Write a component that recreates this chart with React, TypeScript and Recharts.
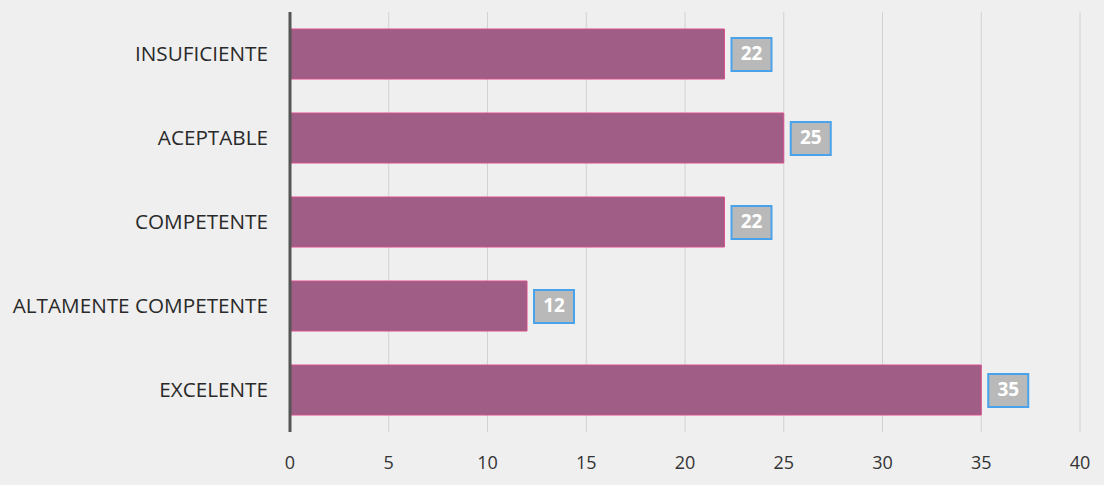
import React from 'react';
import { BarChart, Bar, XAxis, YAxis, CartesianGrid, LabelList } from 'recharts';

const categories = ['INSUFICIENTE', 'ACEPTABLE', 'COMPETENTE', 'ALTAMENTE COMPETENTE', 'EXCELENTE'];
const values = [22, 25, 22, 12, 35];
const xTicks = [0, 5, 10, 15, 20, 25, 30, 35, 40];

const data = categories.map((name, i) => ({ name, value: values[i] }));

const ValueBox = (props: any) => {
  const { x, y, width, height, value } = props;
  const bx = x + width + 7;
  const cy = y + height / 2;
  return (
    <g>
      <rect x={bx} y={cy - 16} width={40} height={33} fill="#b9b9b9" stroke="#4aa3ea" strokeWidth={2} />
      <text x={bx + 20} y={cy + 1} textAnchor="middle" dominantBaseline="middle"
        fill="#ffffff" fontWeight={700} fontSize={19} fontFamily="'Open Sans', sans-serif">
        {value}
      </text>
    </g>
  );
};

export default function App() {
  return (
    <div style={{ position: 'absolute', left: 0, top: 0, width: 1104, height: 485, background: '#efefef' }}>
      <BarChart
        layout="vertical"
        width={1104}
        height={485}
        data={data}
        margin={{ top: 12, right: 24, left: 0, bottom: 23 }}
      >
        <CartesianGrid horizontal={false} stroke="#d2d2d2" />
        <XAxis
          type="number"
          domain={[0, 40]}
          ticks={xTicks}
          axisLine={false}
          tickLine={false}
          tickMargin={18}
          height={30}
          tick={{ fill: '#333', fontSize: 18, fontFamily: "'Open Sans', sans-serif" }}
        />
        <YAxis
          type="category"
          dataKey="name"
          width={290}
          axisLine={{ stroke: '#555', strokeWidth: 3 }}
          tickLine={false}
          tickSize={0}
          tickMargin={22}
          tick={{ fill: '#2a2a2a', fontSize: 20.7, fontFamily: "'Open Sans', sans-serif" }}
        />
        <Bar dataKey="value" fill="#a05d85" stroke="#d9508c" strokeWidth={1} barSize={50} isAnimationActive={false}>
          <LabelList dataKey="value" content={<ValueBox />} />
        </Bar>
      </BarChart>
    </div>
  );
}
